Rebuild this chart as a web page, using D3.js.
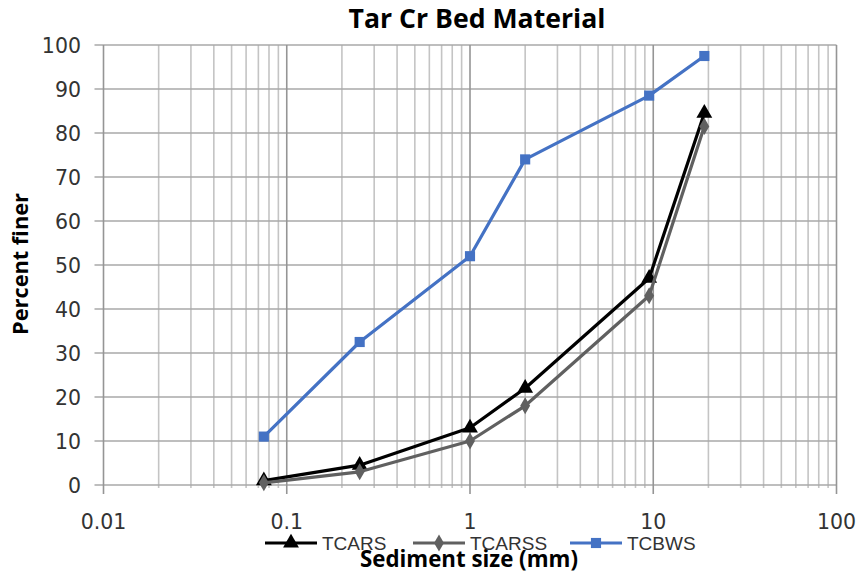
<!DOCTYPE html>
<html>
<head>
<meta charset="utf-8">
<script src="https://cdn.jsdelivr.net/npm/d3@7"></script>
<style>
  html, body { margin: 0; padding: 0; background: #fff; }
  svg { display: block; }
</style>
</head>
<body>
<svg id="chart" width="865" height="577"></svg>
<script>
// ---- data ----
const sizes = [0.075, 0.25, 1, 2, 9.5, 19];
const seriesNames = ["TCARS", "TCARSS", "TCBWS"];
const tcars  = [1, 4.5, 13, 22, 47, 84.5];
const tcarss = [0.5, 3, 10, 18, 43, 81.5];
const tcbws  = [11, 32.5, 52, 74, 88.5, 97.5];
const xTicks = [0.01, 0.1, 1, 10, 100];
const yTicks = [0, 10, 20, 30, 40, 50, 60, 70, 80, 90, 100];
const title = "Tar Cr Bed Material";
const xTitle = "Sediment size (mm)";
const yTitle = "Percent finer";

// ---- layout ----
const svg = d3.select("#chart");
const L = 103.5, R = 836.5, T = 45, B = 485;
const x = d3.scaleLog().domain([0.01, 100]).range([L, R]);
const y = d3.scaleLinear().domain([0, 100]).range([B, T]);

const series = [
  {name: seriesNames[0], values: tcars,  color: "#000000", marker: "triangle"},
  {name: seriesNames[1], values: tcarss, color: "#606060", marker: "diamond"},
  {name: seriesNames[2], values: tcbws,  color: "#4472c4", marker: "square"}
];

// minor gridlines
const minor = [];
for (let e = -2; e < 2; e++) for (let k = 2; k <= 9; k++) minor.push(k * Math.pow(10, e));
const g = svg.append("g");
g.selectAll(".minor").data(minor).enter().append("line")
  .attr("x1", d => x(d)).attr("x2", d => x(d))
  .attr("y1", T).attr("y2", B + 3)
  .attr("stroke", "#c4c4c4").attr("stroke-width", 1.6);
// horizontal gridlines
g.selectAll(".hgrid").data(yTicks).enter().append("line")
  .attr("x1", L - 9).attr("x2", R)
  .attr("y1", d => y(d)).attr("y2", d => y(d))
  .attr("stroke", "#a8a8a8").attr("stroke-width", 1.6);
// major vertical gridlines
g.selectAll(".major").data(xTicks).enter().append("line")
  .attr("x1", d => x(d)).attr("x2", d => x(d))
  .attr("y1", T).attr("y2", B + 9)
  .attr("stroke", "#959595").attr("stroke-width", 1.6);

// x tick labels
const tickFont = "'DejaVu Sans', Verdana, sans-serif";
svg.append("g").selectAll("text").data(xTicks).enter().append("text")
  .attr("x", d => x(d)).attr("y", 529)
  .attr("text-anchor", "middle")
  .attr("font-family", tickFont).attr("font-size", 20.5).attr("fill", "#333")
  .text(d => d3.format("~g")(d));
// y tick labels
svg.append("g").selectAll("text").data(yTicks).enter().append("text")
  .attr("x", 81).attr("y", d => y(d) + 7.5)
  .attr("text-anchor", "end")
  .attr("font-family", tickFont).attr("font-size", 20.5).attr("fill", "#333")
  .text(d => d);

// markers
function markerPath(type, s) {
  if (type === "triangle") return d3.symbol(d3.symbolTriangle, s * s * 0.9)();
  if (type === "diamond") return d3.symbol(d3.symbolDiamond, s * s * 0.7)();
  return d3.symbol(d3.symbolSquare, s * s * 0.85)();
}

const line = d3.line().x(d => x(d[0])).y(d => y(d[1]));
series.forEach(s => {
  const pts = sizes.map((v, i) => [v, s.values[i]]);
  svg.append("path").datum(pts)
    .attr("d", line).attr("fill", "none")
    .attr("stroke", s.color).attr("stroke-width", 3.2)
    .attr("stroke-linejoin", "round");
  svg.append("g").selectAll("path").data(pts).enter().append("path")
    .attr("d", markerPath(s.marker, 11))
    .attr("transform", d => `translate(${x(d[0])},${y(d[1])})`)
    .attr("fill", s.color);
});

// title
const boldFont = "'Open Sans', 'Noto Sans', sans-serif";
function fit(sel, target) {
  const w = sel.node().getComputedTextLength();
  const fs = parseFloat(sel.attr("font-size"));
  sel.attr("font-size", fs * target / w);
}
const tt = svg.append("text").attr("x", 477).attr("y", 28)
  .attr("text-anchor", "middle").attr("font-family", boldFont)
  .attr("font-weight", "bold").attr("font-size", 22).attr("fill", "#000")
  .text(title);
fit(tt, 257);

// y title
const yt = svg.append("text")
  .attr("transform", "translate(28,264) rotate(-90)")
  .attr("text-anchor", "middle").attr("font-family", boldFont)
  .attr("font-weight", "bold").attr("font-size", 18).attr("fill", "#000")
  .text(yTitle);
fit(yt, 142);

// x title
const xt = svg.append("text").attr("x", 469).attr("y", 567)
  .attr("text-anchor", "middle").attr("font-family", boldFont)
  .attr("font-weight", "bold").attr("font-size", 18).attr("fill", "#000")
  .text(xTitle);
fit(xt, 218);

// legend
const legendX = [265, 413, 570];
const legendY = 543;
const lg = svg.append("g");
series.forEach((s, i) => {
  const lx = legendX[i];
  lg.append("line").attr("x1", lx).attr("x2", lx + 52)
    .attr("y1", legendY).attr("y2", legendY)
    .attr("stroke", s.color).attr("stroke-width", 3.2);
  lg.append("path").attr("d", markerPath(s.marker, 11))
    .attr("transform", `translate(${lx + 26},${legendY})`)
    .attr("fill", s.color);
  lg.append("text").attr("x", lx + 57).attr("y", legendY + 7)
    .attr("font-family", "'Liberation Sans', Arial, sans-serif")
    .attr("font-size", 19).attr("fill", "#333")
    .text(s.name);
});
</script>
</body>
</html>
